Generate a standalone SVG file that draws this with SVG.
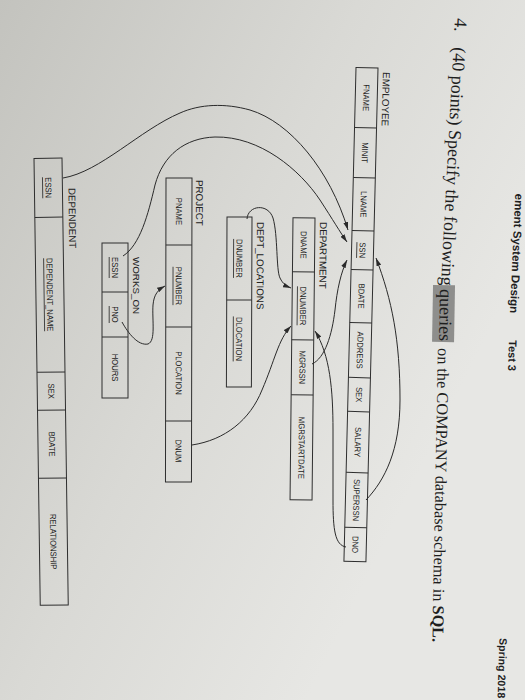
<svg xmlns="http://www.w3.org/2000/svg" width="525" height="700" viewBox="0 0 525 700">
<defs>
<linearGradient id="bg" gradientUnits="userSpaceOnUse" x1="0" y1="0" x2="525" y2="260">
<stop offset="0" stop-color="#c3c3be"/>
<stop offset="0.55" stop-color="#d9d9d5"/>
<stop offset="1" stop-color="#e7e7e4"/>
</linearGradient>
<marker id="arr" viewBox="0 0 10 6" refX="10" refY="3" markerWidth="8" markerHeight="5" orient="auto" markerUnits="userSpaceOnUse">
<path d="M0,0 L10,3 L0,6 z" fill="#2a2a2a"/>
</marker>
<style>
.box{fill:none;stroke:#2e2e2e;stroke-width:1}
.cell{font-family:"Liberation Sans",Arial,sans-serif;font-size:8.5px;fill:#222;text-anchor:middle}
.lbl{font-family:"Liberation Sans",Arial,sans-serif;font-size:9.8px;fill:#222}
.ul{stroke:#222;stroke-width:0.8}
.conn{fill:none;stroke:#2a2a2a;stroke-width:1;marker-end:url(#arr)}
.ttl{font-family:"Liberation Serif","Times New Roman",serif;fill:#1e1e1e}
.hdr{font-family:"Liberation Sans",Arial,sans-serif;font-weight:bold;fill:#1e1e1e}
</style>
</defs>
<rect width="525" height="700" fill="url(#bg)"/>

<!-- header -->
<g id="header">
<g transform="translate(510,313) rotate(92.5)"><text class="hdr" font-size="11.5" x="0" y="0" text-anchor="end">ement System Design</text></g>
<g transform="translate(509,340) rotate(91.9)"><text class="hdr" font-size="11" x="0" y="0">Test 3</text></g>
<g transform="translate(499.5,638) rotate(91.9)"><text class="hdr" font-size="10.6" x="0" y="0">Spring 2018</text></g>
</g>

<!-- title -->
<g id="title">
<g transform="translate(455,18) rotate(93)">
<text class="ttl" x="0" y="0" font-size="18">4.</text>
<text class="ttl" x="29" y="0" font-size="18">(40 points) Specify the following</text>
</g>
<g transform="translate(440,287) rotate(91)">
<rect x="-2" y="-15" width="57" height="22" fill="#8e8e8c"/>
<text class="ttl" x="2" y="0" font-size="18">queries</text>
</g>
<g transform="translate(438,348) rotate(91.1)">
<text class="ttl" x="0" y="0" font-size="16.3">on the COMPANY database schema in <tspan font-weight="bold">SQL.</tspan></text>
</g>
</g>

<!-- EMPLOYEE -->
<g id="employee" transform="translate(378,68) rotate(91.4)">
<text class="lbl" x="4" y="-5">EMPLOYEE</text>
<rect class="box" x="0" y="0" width="494" height="22"/>
<path class="box" d="M60,0V22M110,0V22M163,0V22M202,0V22M255,0V22M310,0V22M344,0V22M405,0V22M460,0V22"/>
<g transform="scale(0.9,1)">
<text class="cell" x="33.33" y="14.05">FNAME</text>
<text class="cell" x="94.44" y="14.05">MINIT</text>
<text class="cell" x="151.67" y="14.05">LNAME</text>
<text class="cell" x="202.78" y="14.05">SSN</text>
<text class="cell" x="253.89" y="14.05">BDATE</text>
<text class="cell" x="313.89" y="14.05">ADDRESS</text>
<text class="cell" x="363.33" y="14.05">SEX</text>
<text class="cell" x="416.11" y="14.05">SALARY</text>
<text class="cell" x="480.56" y="14.05">SUPERSSN</text>
<text class="cell" x="530" y="14.05">DNO</text>
</g>
<line class="ul" x1="174.6" y1="16.8" x2="190.4" y2="16.8"/>
</g>

<!-- DEPARTMENT -->
<g id="department" transform="translate(315,218) rotate(90.6)">
<text class="lbl" x="4" y="-5">DEPARTMENT</text>
<rect class="box" x="0" y="0" width="282" height="22"/>
<path class="box" d="M54,0V22M122,0V22M177,0V22"/>
<g transform="scale(0.9,1)">
<text class="cell" x="30" y="14.05">DNAME</text>
<text class="cell" x="97.78" y="14.05">DNUMBER</text>
<text class="cell" x="166.11" y="14.05">MGRSSN</text>
<text class="cell" x="255.56" y="14.05">MGRSTARTDATE</text>
</g>
<line class="ul" x1="68.5" y1="16.8" x2="107.5" y2="16.8"/>
</g>

<!-- DEPT_LOCATIONS -->
<g id="dept_locations" transform="translate(252,217) rotate(90.2)">
<text class="lbl" x="5" y="-5">DEPT_LOCATIONS</text>
<rect class="box" x="0" y="0" width="170" height="25"/>
<path class="box" d="M83,0V25"/>
<g transform="scale(0.9,1)">
<text class="cell" x="46.11" y="15.5">DNUMBER</text>
<text class="cell" x="135.56" y="15.5">DLOCATION</text>
</g>
<line class="ul" x1="22" y1="18.3" x2="61" y2="18.3"/>
<line class="ul" x1="99.5" y1="18.3" x2="144.5" y2="18.3"/>
</g>

<!-- PROJECT -->
<g id="project" transform="translate(192,178) rotate(90.1)">
<text class="lbl" x="2" y="-4">PROJECT</text>
<rect class="box" x="0" y="0" width="304" height="26"/>
<path class="box" d="M67,0V26M149,0V26M243,0V26"/>
<g transform="scale(0.9,1)">
<text class="cell" x="37.22" y="16">PNAME</text>
<text class="cell" x="120" y="16">PNUMBER</text>
<text class="cell" x="216.67" y="16">PLOCATION</text>
<text class="cell" x="303.33" y="16">DNUM</text>
</g>
<line class="ul" x1="88.8" y1="18.8" x2="127.2" y2="18.8"/>
</g>

<!-- WORKS_ON -->
<g id="works_on" transform="translate(128,243) rotate(90)">
<text class="lbl" x="14" y="-5">WORKS_ON</text>
<rect class="box" x="0" y="0" width="155" height="26"/>
<path class="box" d="M49,0V26M94,0V26"/>
<g transform="scale(0.9,1)">
<text class="cell" x="27.22" y="16">ESSN</text>
<text class="cell" x="79.44" y="16">PNO</text>
<text class="cell" x="138.33" y="16">HOURS</text>
</g>
<line class="ul" x1="14" y1="18.8" x2="35" y2="18.8"/>
<line class="ul" x1="63" y1="18.8" x2="80" y2="18.8"/>
</g>

<!-- DEPENDENT -->
<g id="dependent" transform="translate(62,158) rotate(89.2)">
<text class="lbl" x="30" y="-6">DEPENDENT</text>
<rect class="box" x="0" y="0" width="447" height="28"/>
<path class="box" d="M59,0V28M214,0V28M252,0V28M320,0V28"/>
<g transform="scale(0.9,1)">
<text class="cell" x="32.78" y="17">ESSN</text>
<text class="cell" x="151.67" y="17">DEPENDENT_NAME</text>
<text class="cell" x="258.89" y="17">SEX</text>
<text class="cell" x="317.78" y="17">BDATE</text>
<text class="cell" x="426.11" y="17">RELATIONSHIP</text>
</g>
<line class="ul" x1="19" y1="19.8" x2="40" y2="19.8"/>
<line class="ul" x1="100" y1="19.8" x2="173" y2="19.8"/>
</g>

<!-- connectors -->
<g id="connectors">
<path id="c_dep_essn" class="conn" d="M63,178 C100,172 140,130 180,113 C200,104 225,103 250,110 C290,122 330,170 348,230"/>
<path id="c_wo_essn" class="conn" d="M123,256 C140,245 148,215 155,185 C163,155 185,138 215,137 C260,136 300,170 320,200 C333,220 340,232 347,242"/>
<path id="c_dl_dnum" class="conn" d="M247,219 C248,205 268,203 273,218 C278,235 276,270 280,278 C283,284 286,286 291,288"/>
<path id="c_proj_dnum" class="conn" d="M192,445 C225,440 250,420 262,390 C275,360 278,340 291,326"/>
<path id="c_dno" class="conn" d="M346,547 C335,545 333,530 333,500 L333,430 C333,390 330,355 315,331"/>
<path id="c_mgrssn" class="conn" d="M312,364 C325,358 332,335 335,310 C337,290 341,272 347,260"/>
<path id="c_superssn" class="conn" d="M366,500 C385,480 400,450 400,400 C400,340 392,300 376,258"/>
<path id="c_pno" class="conn" d="M122,322 C128,333 138,346 148,344 C156,341 152,320 153,305 C154,294 158,290 165,286"/>
</g>
</svg>
